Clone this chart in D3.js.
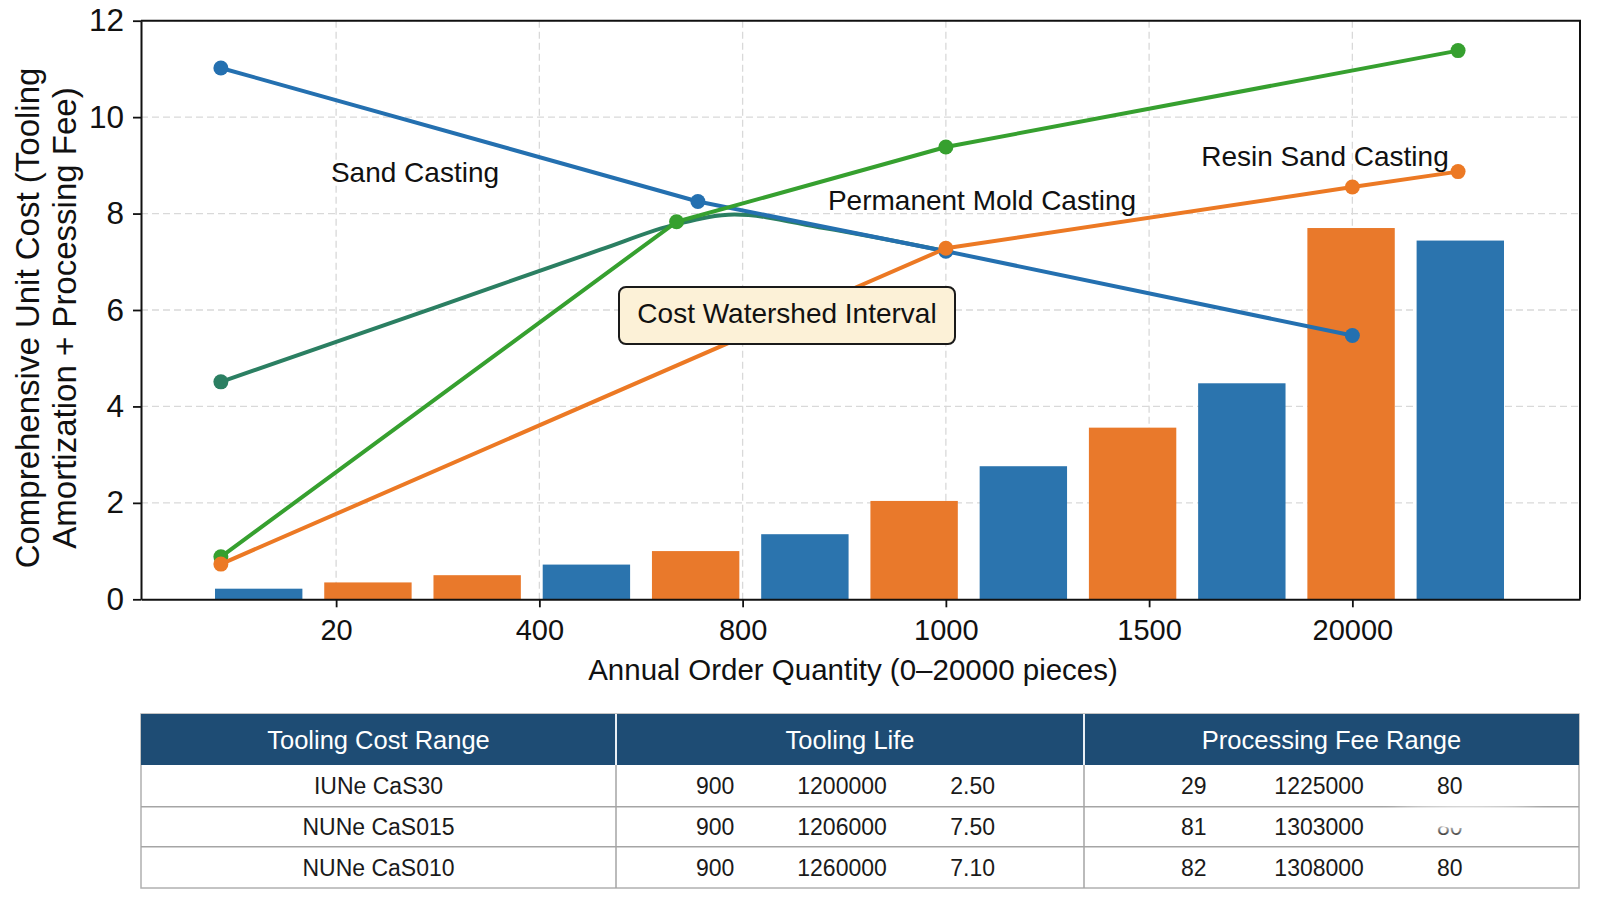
<!DOCTYPE html>
<html>
<head>
<meta charset="utf-8">
<script src="https://cdn.jsdelivr.net/npm/d3@7"></script>
<style>
  body { margin: 0; background: #fff; }
  svg text { font-family: "Liberation Sans", Arial, sans-serif; }
</style>
</head>
<body>
<div id="chart"></div>
<script>
// x tick labels (positions 1..6 on the axis)
var xTickLabels = ["20", "400", "800", "1000", "1500", "20000"];
var yTicks = [0, 2, 4, 6, 8, 10, 12];

// bars, left to right
var barValues = [0.22, 0.35, 0.50, 0.72, 1.00, 1.35, 2.04, 2.76, 3.56, 4.48, 7.70, 7.44];
var barKinds = ["b", "o", "o", "b", "o", "b", "o", "b", "o", "b", "o", "b"];

// line series: position on x axis, unit cost
var sandX = [0.433, 2.78, 4.0, 6.0];
var sandY = [11.02, 8.25, 7.22, 5.47];
var resinX = [0.433, 4.0, 6.0, 6.52];
var resinY = [0.73, 7.28, 8.55, 8.87];
var moldX = [0.433, 2.675, 4.0, 6.52];
var moldY = [0.88, 7.83, 9.38, 11.38];
var tealX = [0.433, 1.5, 2.3, 2.675, 2.96, 3.4, 4.0];
var tealY = [4.51, 6.07, 7.25, 7.78, 7.98, 7.70, 7.22];

// table
var tableHeaders = ["Tooling Cost Range", "Tooling Life", "Processing Fee Range"];
var rowNames = ["IUNe CaS30", "NUNe CaS015", "NUNe CaS010"];
var lifeA = ["900", "900", "900"];
var lifeB = ["1200000", "1206000", "1260000"];
var lifeC = ["2.50", "7.50", "7.10"];
var feeA = ["29", "81", "82"];
var feeB = ["1225000", "1303000", "1308000"];
var feeC = ["80", "80", "80"];

var width = 1600;
var height = 900;

//Plot box edges (note: "top" is a reserved window global, so prefix them)
var plotLeft = 141, plotRight = 1580, plotTop = 20.7, plotBottom = 599.3;

var blue = "#2b74ae";
var orange = "#e9792b";
var lineBlue = "#2470b0";
var lineOrange = "#ec7924";
var green = "#36a02f";
var teal = "#2b7f62";

var svg = d3.select("#chart")
  .append("svg")
  .attr("width", width)
  .attr("height", height);

var xScale = d3.scaleLinear().domain([0.04, 7.12]).range([plotLeft, plotRight]);
var yScale = d3.scaleLinear().domain([0, 12]).range([plotBottom, plotTop]);
var xBand = d3.scaleBand()
  .domain(d3.range(barValues.length))
  .range([215, 1504])
  .paddingInner(0.2)
  .paddingOuter(0);

//Grid lines
var grid = svg.append("g").attr("class", "grid");
grid.selectAll("line.gy")
  .data(yTicks.slice(1))
  .enter()
  .append("line")
  .attr("x1", plotLeft).attr("x2", plotRight)
  .attr("y1", function(d) { return yScale(d); })
  .attr("y2", function(d) { return yScale(d); })
  .attr("stroke", "#d9d9d9")
  .attr("stroke-width", 1.3)
  .attr("stroke-dasharray", "7,4");
grid.selectAll("line.gx")
  .data(d3.range(1, 7))
  .enter()
  .append("line")
  .attr("y1", plotTop).attr("y2", plotBottom)
  .attr("x1", function(d) { return xScale(d); })
  .attr("x2", function(d) { return xScale(d); })
  .attr("stroke", "#d9d9d9")
  .attr("stroke-width", 1.3)
  .attr("stroke-dasharray", "7,4");

//Bars
svg.append("g")
  .selectAll("rect")
  .data(barValues)
  .enter()
  .append("rect")
  .attr("x", function(d, i) { return xBand(i); })
  .attr("width", xBand.bandwidth())
  .attr("y", function(d) { return yScale(d); })
  .attr("height", function(d) { return yScale(0) - yScale(d); })
  .attr("fill", function(d, i) { return barKinds[i] === "b" ? blue : orange; });

//Lines
function zipSeries(xs, ys) {
  return xs.map(function(x, i) { return { x: x, y: ys[i] }; });
}

var straight = d3.line()
  .x(function(d) { return xScale(d.x); })
  .y(function(d) { return yScale(d.y); });

var smooth = d3.line()
  .curve(d3.curveMonotoneX)
  .x(function(d) { return xScale(d.x); })
  .y(function(d) { return yScale(d.y); });

var series = [
  { pts: zipSeries(tealX, tealY), color: teal, gen: smooth, dots: [0] },
  { pts: zipSeries(sandX, sandY), color: lineBlue, gen: straight, dots: null },
  { pts: zipSeries(moldX, moldY), color: green, gen: straight, dots: null },
  { pts: zipSeries(resinX, resinY), color: lineOrange, gen: straight, dots: null }
];

series.forEach(function(s) {
  var g = svg.append("g");
  g.append("path")
    .attr("d", s.gen(s.pts))
    .attr("fill", "none")
    .attr("stroke", s.color)
    .attr("stroke-width", 4)
    .attr("stroke-linejoin", "round");
  var dotData = s.dots ? s.dots.map(function(i) { return s.pts[i]; }) : s.pts;
  g.selectAll("circle")
    .data(dotData)
    .enter()
    .append("circle")
    .attr("cx", function(d) { return xScale(d.x); })
    .attr("cy", function(d) { return yScale(d.y); })
    .attr("r", 7.5)
    .attr("fill", s.color);
});

//Axes
var xAxis = d3.axisBottom(xScale)
  .tickValues(d3.range(1, 7))
  .tickFormat(function(d) { return xTickLabels[d - 1]; })
  .tickSizeInner(8)
  .tickSizeOuter(0)
  .tickPadding(12);
var yAxis = d3.axisLeft(yScale)
  .tickValues(yTicks)
  .tickSizeInner(8)
  .tickSizeOuter(0)
  .tickPadding(9);

var gx = svg.append("g")
  .attr("transform", "translate(0," + plotBottom + ")")
  .call(xAxis);
var gy = svg.append("g")
  .attr("transform", "translate(" + plotLeft + ",0)")
  .call(yAxis);

[gx, gy].forEach(function(g) {
  g.select(".domain").attr("stroke", "#111").attr("stroke-width", 2);
  g.selectAll(".tick line").attr("stroke", "#111").attr("stroke-width", 1.8);
  g.selectAll(".tick text")
    .attr("fill", "#111")
    .attr("font-size", 29)
    .style("font-family", "'Liberation Sans', Arial, sans-serif");
});
gy.selectAll(".tick text").attr("font-size", 31.5);

//Top and right spines
svg.append("path")
  .attr("d", "M" + plotLeft + "," + plotTop + "H" + plotRight + "V" + plotBottom)
  .attr("fill", "none")
  .attr("stroke", "#111")
  .attr("stroke-width", 2);

//Axis titles
svg.append("text")
  .attr("x", 853)
  .attr("y", 680)
  .attr("text-anchor", "middle")
  .attr("font-size", 29.5)
  .attr("fill", "#111")
  .text("Annual Order Quantity (0\u201320000 pieces)");

var yTitle = svg.append("text")
  .attr("transform", "translate(0,318)rotate(-90)")
  .attr("text-anchor", "middle")
  .attr("font-size", 33)
  .attr("fill", "#111");
yTitle.append("tspan").attr("x", 0).attr("y", 39).text("Comprehensive Unit Cost (Tooling");
yTitle.append("tspan").attr("x", 0).attr("y", 76).text("Amortization + Processing Fee)");

//Series labels
var labels = [
  { text: "Sand Casting", x: 415, y: 182 },
  { text: "Permanent Mold Casting", x: 982, y: 210 },
  { text: "Resin Sand Casting", x: 1325, y: 166 }
];
svg.selectAll("text.lbl")
  .data(labels)
  .enter()
  .append("text")
  .attr("class", "lbl")
  .attr("x", function(d) { return d.x; })
  .attr("y", function(d) { return d.y; })
  .attr("text-anchor", "middle")
  .attr("font-size", 28)
  .attr("fill", "#111")
  .text(function(d) { return d.text; });

//Callout box
svg.append("rect")
  .attr("x", 619).attr("y", 287)
  .attr("width", 336).attr("height", 57)
  .attr("rx", 7)
  .attr("fill", "#fcf1d7")
  .attr("stroke", "#1a1a1a")
  .attr("stroke-width", 2);
svg.append("text")
  .attr("x", 787).attr("y", 323)
  .attr("text-anchor", "middle")
  .attr("font-size", 28)
  .attr("fill", "#111")
  .text("Cost Watershed Interval");

//Table
var tLeft = 141, tRight = 1579;
var colEdges = [tLeft, 616, 1084, tRight];
var headTop = 714, headBottom = 765;
var rowEdges = [765, 806.7, 846.7, 888];

var table = svg.append("g").attr("class", "table");

table.append("rect")
  .attr("x", tLeft).attr("y", headTop)
  .attr("width", tRight - tLeft).attr("height", rowEdges[3] - headTop)
  .attr("fill", "#fff")
  .attr("stroke", "#b0b0b0")
  .attr("stroke-width", 1.5);

table.append("rect")
  .attr("x", tLeft).attr("y", headTop)
  .attr("width", tRight - tLeft).attr("height", headBottom - headTop)
  .attr("fill", "#1e4c74");

// row lines
table.selectAll("line.row")
  .data(rowEdges.slice(1, 3))
  .enter()
  .append("line")
  .attr("x1", tLeft).attr("x2", tRight)
  .attr("y1", function(d) { return d; })
  .attr("y2", function(d) { return d; })
  .attr("stroke", "#a5a5a5")
  .attr("stroke-width", 1.5);

// column dividers
[1, 2].forEach(function(i) {
  table.append("line")
    .attr("x1", colEdges[i]).attr("x2", colEdges[i])
    .attr("y1", headTop).attr("y2", headBottom)
    .attr("stroke", "#e8eef4")
    .attr("stroke-width", 2);
  table.append("line")
    .attr("x1", colEdges[i]).attr("x2", colEdges[i])
    .attr("y1", headBottom).attr("y2", rowEdges[3])
    .attr("stroke", "#a5a5a5")
    .attr("stroke-width", 1.5);
});

table.selectAll("text.head")
  .data(tableHeaders)
  .enter()
  .append("text")
  .attr("x", function(d, i) { return (colEdges[i] + colEdges[i + 1]) / 2; })
  .attr("y", (headTop + headBottom) / 2 + 9)
  .attr("text-anchor", "middle")
  .attr("font-size", 25.5)
  .attr("fill", "#fff")
  .text(function(d) { return d; });

var cellFracs = [0.212, 0.483, 0.762];
var feeFracs = [0.222, 0.475, 0.739];

function colPos(col, frac) {
  return colEdges[col] + (colEdges[col + 1] - colEdges[col]) * frac;
}

rowNames.forEach(function(name, r) {
  var cy = (rowEdges[r] + rowEdges[r + 1]) / 2 + 8.5;
  var cells = [
    { t: name, x: (colEdges[0] + colEdges[1]) / 2 },
    { t: lifeA[r], x: colPos(1, cellFracs[0]) },
    { t: lifeB[r], x: colPos(1, cellFracs[1]) },
    { t: lifeC[r], x: colPos(1, cellFracs[2]) },
    { t: feeA[r], x: colPos(2, feeFracs[0]) },
    { t: feeB[r], x: colPos(2, feeFracs[1]) },
    { t: feeC[r], x: colPos(2, feeFracs[2]) }
  ];
  table.selectAll("text.r" + r)
    .data(cells)
    .enter()
    .append("text")
    .attr("x", function(d) { return d.x; })
    .attr("y", cy)
    .attr("text-anchor", "middle")
    .attr("font-size", 23)
    .attr("fill", "#1a1a1a")
    .text(function(d) { return d.t; });
});

// faded patch over the lower right of the table
var defs = svg.append("defs");
defs.append("filter").attr("id", "blur")
  .attr("x", "-50%").attr("y", "-100%").attr("width", "200%").attr("height", "300%")
  .append("feGaussianBlur").attr("stdDeviation", 6);
svg.append("ellipse")
  .attr("cx", 1465).attr("cy", 818)
  .attr("rx", 75).attr("ry", 12)
  .attr("fill", "#fff")
  .attr("filter", "url(#blur)");
svg.append("ellipse")
  .attr("cx", 1460).attr("cy", 821)
  .attr("rx", 28).attr("ry", 7)
  .attr("fill", "#fff");
</script>
</body>
</html>
